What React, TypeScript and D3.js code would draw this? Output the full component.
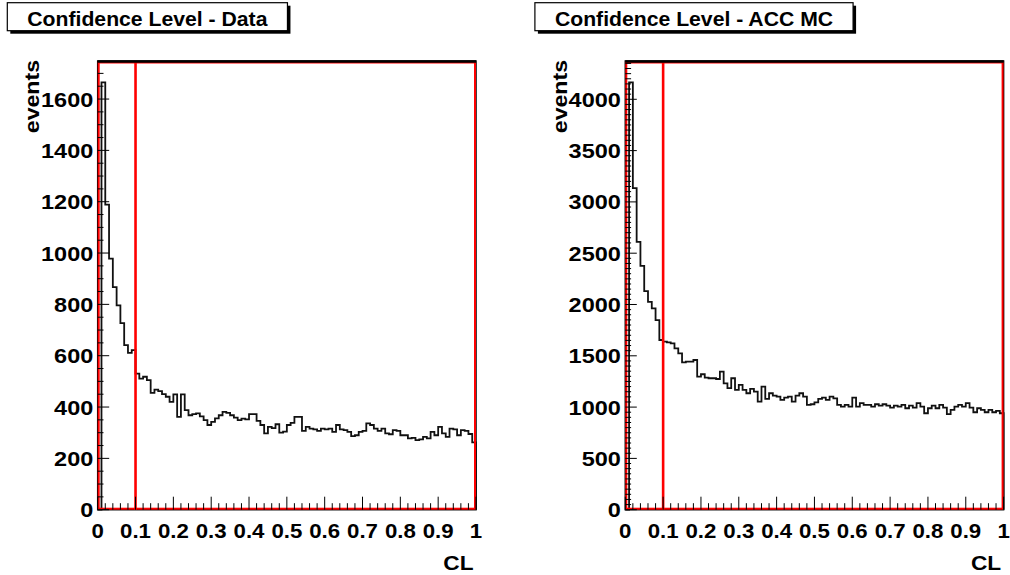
import React, { useEffect, useRef } from "react";
import * as d3 from "d3";

// CL histogram, 100 bins of width 0.01
const clEdges = d3.range(0, 101).map((i) => i / 100);

const dataCounts = [
  0, 1665, 1189, 978, 867, 796, 727, 641, 611, 622,
  530, 511, 518, 505, 455, 468, 462, 450, 440, 420,
  449, 362, 449, 388, 368, 372, 375, 364, 349, 330,
  342, 356, 368, 381, 377, 368, 359, 349, 355, 352,
  372, 372, 346, 330, 297, 323, 318, 333, 300, 304,
  330, 338, 362, 362, 307, 323, 316, 313, 307, 316,
  313, 316, 303, 330, 313, 310, 303, 287, 290, 303,
  307, 336, 330, 316, 307, 316, 297, 294, 310, 307,
  290, 290, 278, 280, 271, 274, 284, 278, 303, 290,
  323, 297, 284, 316, 313, 290, 310, 307, 295, 262,
];

const accMcCounts = [
  0, 4165, 3135, 2610, 2377, 2130, 2026, 1962, 1848, 1654,
  1638, 1631, 1621, 1573, 1524, 1436, 1443, 1443, 1459, 1297,
  1320, 1287, 1281, 1281, 1274, 1346, 1232, 1184, 1281, 1167,
  1216, 1167, 1135, 1177, 1151, 1054, 1200, 1080, 1135, 1112,
  1102, 1070, 1093, 1102, 1054, 1112, 1135, 1102, 1021, 1028,
  1047, 1080, 1093, 1070, 1102, 1086, 1021, 1005, 1021, 1005,
  1093, 1005, 1038, 1021, 1021, 1005, 1028, 1015, 1028, 1015,
  995, 1015, 1005, 1021, 989, 1015, 995, 1038, 1005, 940,
  989, 1015, 989, 1021, 995, 931, 973, 1005, 1021, 1005,
  1038, 995, 950, 989, 973, 950, 973, 950, 963, 940,
];

const xTicks = [0, 0.1, 0.2, 0.3, 0.4, 0.5, 0.6, 0.7, 0.8, 0.9, 1];
const xTickLabels = ["0", "0.1", "0.2", "0.3", "0.4", "0.5", "0.6", "0.7", "0.8", "0.9", "1"];
const dataYTicks = [0, 200, 400, 600, 800, 1000, 1200, 1400, 1600];
const accYTicks = [0, 500, 1000, 1500, 2000, 2500, 3000, 3500, 4000];
const cutValue = 0.1;

const FONT = '"Liberation Sans", Arial, Helvetica, sans-serif';

const drawPanel = (svg, counts, yTicks, yMinor, title, dx) => {
  const left = 97.7 + dx;
  const right = 476 + dx;
  const top = 61;
  const bottom = 509.7;
  const yMax = d3.max(counts) * 1.05;

  const x = d3.scaleLinear().domain([0, 1]).range([left, right]);
  const y = d3.scaleLinear().domain([0, yMax]).range([bottom, top]);

  const g = svg.append("g");

  // frame
  g.append("rect")
    .attr("x", left)
    .attr("y", top)
    .attr("width", right - left)
    .attr("height", bottom - top)
    .attr("fill", "white")
    .attr("stroke", "black")
    .attr("stroke-width", 1.5);

  // histogram outline
  const pts = [[0, 0], ...counts.map((c, i) => [clEdges[i], c]), [1, counts[counts.length - 1]], [1, 0]];
  const line = d3
    .line()
    .x((d) => x(d[0]))
    .y((d) => y(d[1]))
    .curve(d3.curveStepAfter);
  g.append("path")
    .attr("d", line(pts))
    .attr("fill", "none")
    .attr("stroke", "#111")
    .attr("stroke-width", 1.8);

  // red cut box + cut line
  g.append("rect")
    .attr("x", x(0) + 1)
    .attr("y", top + 1.5)
    .attr("width", x(1) - x(0) - 2)
    .attr("height", bottom - top - 2.5)
    .attr("fill", "none")
    .attr("stroke", "#ff0000")
    .attr("stroke-width", 2);
  g.append("line")
    .attr("x1", x(cutValue))
    .attr("x2", x(cutValue))
    .attr("y1", bottom)
    .attr("y2", top + 1)
    .attr("stroke", "#ff0000")
    .attr("stroke-width", 2.6);
  g.append("line")
    .attr("x1", left)
    .attr("x2", right)
    .attr("y1", top + 0.5)
    .attr("y2", top + 0.5)
    .attr("stroke", "black")
    .attr("stroke-width", 2.5);

  // x ticks (0.02 minor, 0.1 major)
  const xMinor = d3.range(0, 51).map((i) => i / 50);
  g.selectAll(".xt")
    .data(xMinor)
    .join("line")
    .attr("x1", (d) => x(d))
    .attr("x2", (d) => x(d))
    .attr("y1", bottom)
    .attr("y2", (d, i) => (i % 5 === 0 ? bottom - 13 : bottom - 6.5))
    .attr("stroke", "black")
    .attr("stroke-width", 1);

  // y ticks
  const yMinorTicks = d3.range(0, yMax, yMinor);
  const majorStep = yTicks[1] - yTicks[0];
  g.selectAll(".yt")
    .data(yMinorTicks)
    .join("line")
    .attr("x1", left)
    .attr("x2", (d) => (Math.abs(d % majorStep) < 1e-6 ? left + 11.5 : left + 5.8))
    .attr("y1", (d) => y(d))
    .attr("y2", (d) => y(d))
    .attr("stroke", "black")
    .attr("stroke-width", 1);

  const lab = g.append("g").attr("font-family", FONT).attr("font-weight", "bold").attr("fill", "black");

  lab.selectAll(".xl")
    .data(xTicks)
    .join("text")
    .attr("font-size", 21)
    .attr("text-anchor", "middle")
    .attr("transform", (d) => `translate(${x(d)},537.5) scale(1.06,1)`)
    .text((d, i) => xTickLabels[i]);

  lab.selectAll(".yl")
    .data(yTicks)
    .join("text")
    .attr("font-size", 21)
    .attr("text-anchor", "end")
    .attr("transform", (d) => `translate(${left - 4.4},${y(d) + 7.5}) scale(1.12,1)`)
    .text((d) => d);

  lab.append("text")
    .attr("font-size", 21)
    .attr("text-anchor", "end")
    .attr("transform", `translate(${right - 2.5},569.5) scale(1.08,1)`)
    .text("CL");

  lab.append("text")
    .attr("font-size", 21)
    .attr("text-anchor", "end")
    .attr("transform", `translate(${left - 58.5},${top - 1}) rotate(-90) scale(1.1,1)`)
    .text("events");

  // title box with shadow
  const tg = svg.append("g");
  const bx = 7.3 + dx;
  const by = 2.7;
  const tt = tg
    .append("text")
    .attr("font-family", FONT)
    .attr("font-weight", "bold")
    .attr("font-size", 20)
    .attr("transform", `translate(${bx + 20},26) scale(1.06,1)`)
    .text(title);
  const tw = tt.node().getComputedTextLength() * 1.06;
  const bw = tw + 40;
  const bh = 28;
  tg.insert("rect", "text")
    .attr("x", bx + 3)
    .attr("y", by + 3)
    .attr("width", bw)
    .attr("height", bh)
    .attr("fill", "black");
  tg.insert("rect", "text")
    .attr("x", bx)
    .attr("y", by)
    .attr("width", bw)
    .attr("height", bh)
    .attr("fill", "white")
    .attr("stroke", "black")
    .attr("stroke-width", 1.2);
};

const App = () => {
  const svgRef = useRef(null);

  useEffect(() => {
    const svg = d3.select(svgRef.current);
    svg.selectAll("*").remove();
    drawPanel(svg, dataCounts, dataYTicks, 50, "Confidence Level - Data", 0);
    drawPanel(svg, accMcCounts, accYTicks, 50, "Confidence Level - ACC MC", 527.6);
  }, []);

  return (
    <div style={{ position: "absolute", left: 0, top: 0, width: 1010, height: 575, background: "white" }}>
      <svg ref={svgRef} width={1010} height={575} style={{ display: "block" }} />
    </div>
  );
};

export default App;
